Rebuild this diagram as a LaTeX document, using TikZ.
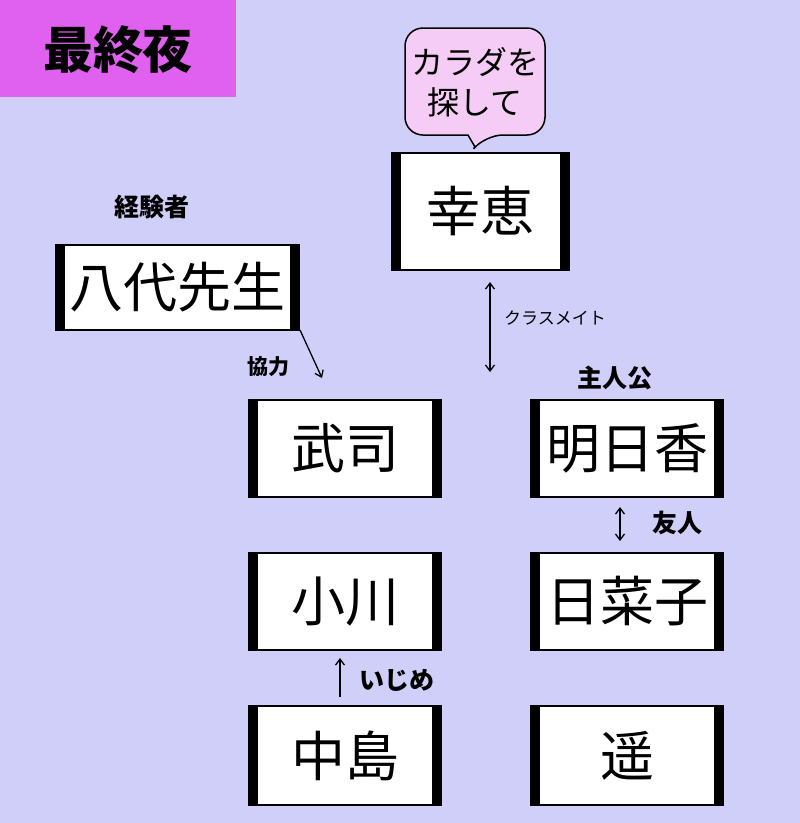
\documentclass[tikz,border=0pt]{standalone}
\usepackage{fontspec}
\newfontfamily\jp{Noto Sans CJK JP}
\usetikzlibrary{arrows.meta}
\definecolor{bg}{HTML}{CFCFFA}
\definecolor{ttl}{HTML}{E060F0}
\definecolor{bub}{HTML}{F5CCF5}
\tikzset{x=1pt,y=-1pt,
 box/.style={draw,line width=1.5pt,fill=white,inner sep=0pt,font=\jp\fontsize{54}{54}\selectfont},
 lbl/.style={font=\jp\fontsize{25}{25}\selectfont\bfseries,inner sep=0pt},
 sml/.style={font=\jp\fontsize{17}{17}\selectfont,inner sep=0pt},
 arr/.style={line width=1.3pt,-{Straight Barb[length=6pt,width=9pt]}},
 darr/.style={line width=1.3pt,{Straight Barb[length=6pt,width=9pt]}-{Straight Barb[length=6pt,width=9pt]}}}
\newcommand\bx[6]{\node[box,minimum width=#3pt,minimum height=#4pt] (#1) at (#2) {#5};
 \fill ([xshift=-1pt]#1.north west) rectangle ([xshift=9pt]#1.south west);
 \fill ([xshift=1pt]#1.north east) rectangle ([xshift=-9pt]#1.south east);}
\begin{document}
\begin{tikzpicture}
\fill[bg] (0,0) rectangle (800,823);
\useasboundingbox (0,0) rectangle (800,823);
\fill[ttl] (0,0) rectangle (236,97);
\node[font=\jp\fontsize{50}{50}\selectfont\bfseries] (title) at (118,50) {最終夜};
% bubble
\draw[fill=bub,line width=1.5pt,rounded corners=18pt] (405,28) -- (545,28) -- (545,135) -- (485,135) [sharp corners]-- (475,147) -- (468,135) [rounded corners=18pt]-- (405,135) -- cycle;
\node[font=\jp\fontsize{32}{40}\selectfont,align=center] (bubtxt) at (475,82) {カラダを\\探して};
\bx{yukie}{480.5,211.5}{175}{117}{幸恵}{}
\bx{yashiro}{177.5,287.5}{241}{85}{八代先生}{}
\bx{takeshi}{345,448.5}{190}{97}{武司}{}
\bx{asuka}{627,448.5}{190}{97}{明日香}{}
\bx{ogawa}{345,601.5}{190}{97}{小川}{}
\bx{hinako}{627,601.5}{190}{97}{日菜子}{}
\bx{nakajima}{345,755.5}{190}{99}{中島}{}
\bx{haruka}{627,755.5}{190}{99}{遥}{}
\node[lbl] (keiken) at (152,207) {経験者};
\node[lbl] (shujin) at (615,378) {主人公};
\coordinate (c1) at (490,282); \coordinate (c2) at (490,372);
\draw[darr] (c1) -- (c2);
\node[sml] (class) at (555,318) {クラスメイト};
\coordinate (k1) at (300,330); \coordinate (k2) at (322,378);
\draw[arr] (k1) -- (k2);
\node[lbl,font=\jp\fontsize{21}{21}\selectfont\bfseries] (kyou) at (268,367) {協力};
\coordinate (y1) at (620,507); \coordinate (y2) at (620,541);
\draw[darr] (y1) -- (y2);
\node[lbl] (yuu) at (677,523) {友人};
\coordinate (i1) at (340,697); \coordinate (i2) at (340,658);
\draw[arr] (i1) -- (i2);
\node[lbl] (ijime) at (397,680) {いじめ};
\end{tikzpicture}
\end{document}
